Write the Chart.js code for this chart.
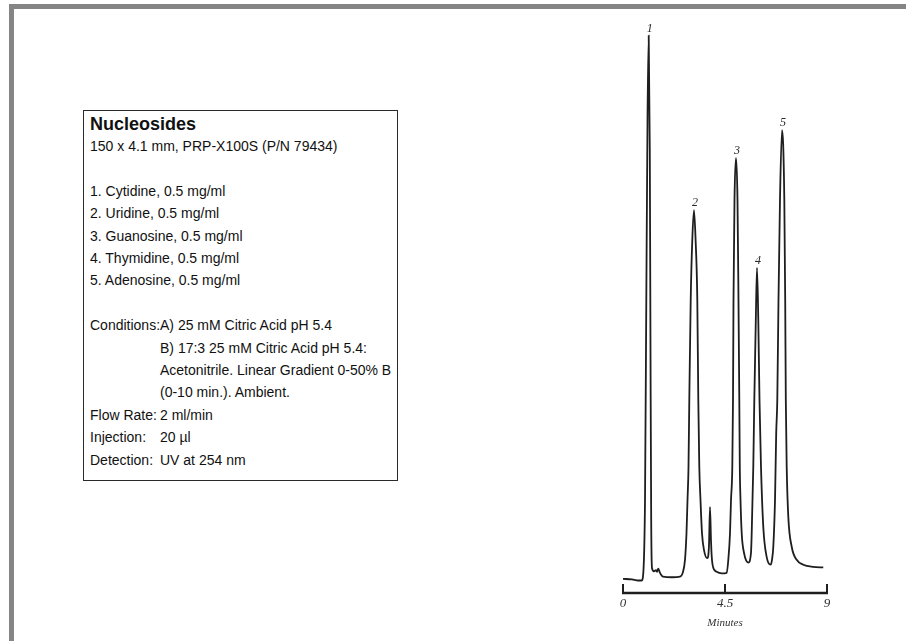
<!DOCTYPE html>
<html>
<head>
<meta charset="utf-8">
<script src="https://cdn.jsdelivr.net/npm/chart.js@4.4.1/dist/chart.umd.min.js"></script>
<style>
  html, body { margin: 0; padding: 0; background: #ffffff; }
  body { width: 906px; height: 641px; position: relative; overflow: hidden;
         font-family: "Liberation Sans", Arial, sans-serif; color: #111; }
  #frame { position: absolute; left: 9px; top: 4px; right: 0; bottom: 0;
           border-top: 5px solid #858585; border-left: 5px solid #858585; }
  #chart { position: absolute; left: 0; top: 0; }
  #info { position: absolute; left: 83px; top: 110px; width: 307px; height: 367px;
          border: 1.5px solid #2a2a2a; padding: 2px 0 0 6px; background: #fff;
          font-size: 14px; line-height: 22.4px; }
  #info .title { font-weight: bold; font-size: 18px; line-height: 22px; }
  #info .row { display: flex; }
  #info .lbl { width: 70px; flex: none; white-space: nowrap; }
  #info .gap { height: 22.4px; }
</style>
</head>
<body>
<div id="frame"></div>
<canvas id="chart" width="906" height="641"></canvas>
<div id="info">
  <div class="title">Nucleosides</div>
  <div>150 x 4.1 mm, PRP-X100S (P/N 79434)</div>
  <div class="gap"></div>
  <div>1. Cytidine, 0.5 mg/ml</div>
  <div>2. Uridine, 0.5 mg/ml</div>
  <div>3. Guanosine, 0.5 mg/ml</div>
  <div>4. Thymidine, 0.5 mg/ml</div>
  <div>5. Adenosine, 0.5 mg/ml</div>
  <div class="gap"></div>
  <div class="row"><span class="lbl">Conditions:</span><span>A) 25 mM Citric Acid pH 5.4<br>B) 17:3 25 mM Citric Acid pH 5.4:<br>Acetonitrile. Linear Gradient 0-50% B<br>(0-10 min.). Ambient.</span></div>
  <div class="row"><span class="lbl">Flow Rate:</span><span>2 ml/min</span></div>
  <div class="row"><span class="lbl">Injection:</span><span>20 µl</span></div>
  <div class="row"><span class="lbl">Detection:</span><span>UV at 254 nm</span></div>
</div>
<script>
// Detector trace: retention time (min) and relative absorbance (peak 1 = 100)
const retentionMin = [
  0.000, 0.397, 0.662, 0.825, 0.896, 0.971, 1.028, 1.081, 1.134, 1.182, 1.213, 1.244, 1.279,
  1.368, 1.456, 1.500, 1.557, 1.632, 1.765, 2.162, 2.515,
  2.634, 2.735, 2.801, 2.846, 2.890, 2.925, 2.987, 3.057, 3.132, 3.203, 3.278, 3.322, 3.366,
  3.419, 3.485, 3.574, 3.719,
  3.794, 3.838, 3.882, 3.913, 3.971, 4.134, 4.354, 4.575,
  4.646, 4.721, 4.765, 4.822, 4.853, 4.875, 4.919, 4.985, 5.051, 5.095, 5.131, 5.153, 5.184,
  5.237, 5.338, 5.528,
  5.647, 5.678, 5.748, 5.793, 5.859, 5.912, 5.969, 6.022, 6.088, 6.190, 6.340, 6.516,
  6.573, 6.631, 6.706, 6.759, 6.807, 6.860, 6.926, 7.015, 7.117, 7.156, 7.183, 7.222, 7.293,
  7.443, 7.663, 7.954, 8.395, 8.836
];
const absorbance = [
  0.1, 0.0, -0.2, -0.2, 1.2, 14.6, 51.4, 84.5, 100.0, 78.9, 42.2, 10.9, 2.1,
  1.5, 1.7, 1.4, 2.0, 1.2, 0.5, 0.4, 0.5,
  1.2, 3.6, 8.5, 14.6, 20.7, 33.0, 51.4, 62.4, 67.9, 62.4, 51.4, 33.0, 20.7,
  14.6, 8.5, 5.4, 3.9,
  6.3, 13.3, 7.2, 4.3, 2.3, 1.4, 1.1, 1.2,
  3.6, 8.5, 14.6, 20.7, 33.0, 51.4, 69.8, 77.5, 69.8, 51.4, 33.0, 20.7, 14.6,
  8.5, 4.9, 3.1,
  4.9, 8.5, 20.7, 33.0, 47.7, 57.3, 47.7, 33.0, 20.7, 9.6, 4.1, 2.7,
  3.6, 6.0, 14.6, 26.9, 33.0, 51.4, 69.8, 82.6, 69.8, 51.4, 33.0, 20.7, 11.5,
  6.0, 3.6, 2.7, 2.3, 2.2
];

// Numbered peaks (retention time of each apex)
const peakNumbers = ['1', '2', '3', '4', '5'];
const peakTimes = [1.134, 3.132, 4.985, 5.912, 7.015];

// Time axis
const axisTicks = [0, 4.5, 9];
const axisTickLabels = ['0', '4.5', '9'];
const axisTitle = 'Minutes';

const tracePoints = retentionMin.map((t, i) => ({ x: t, y: absorbance[i] }));

const inkColor = '#1e1e1e';

const peakLabelPlugin = {
  id: 'peakLabels',
  afterDatasetsDraw(chart) {
    const { ctx, scales: { x, y } } = chart;
    ctx.save();
    ctx.fillStyle = '#2a2a2a';
    ctx.font = 'italic 12px "Liberation Serif", "DejaVu Serif", serif';
    ctx.textAlign = 'center';
    ctx.textBaseline = 'bottom';
    peakNumbers.forEach((name, i) => {
      const idx = retentionMin.indexOf(peakTimes[i]);
      const px = x.getPixelForValue(peakTimes[i]);
      const py = y.getPixelForValue(absorbance[idx]);
      ctx.fillText(name, px + 1, py - 1);
    });
    ctx.restore();
  }
};

const timeAxisPlugin = {
  id: 'timeAxis',
  afterDraw(chart) {
    const { ctx, scales: { x }, chartArea } = chart;
    const base = chartArea.bottom;
    const x0 = x.getPixelForValue(axisTicks[0]);
    const x1 = x.getPixelForValue(axisTicks[axisTicks.length - 1]);
    ctx.save();
    ctx.strokeStyle = inkColor;
    ctx.lineWidth = 2.5;
    ctx.beginPath();
    ctx.moveTo(x0 - 1, base);
    ctx.lineTo(x1 + 1, base);
    ctx.stroke();
    ctx.lineWidth = 2;
    axisTicks.forEach(t => {
      const px = x.getPixelForValue(t);
      ctx.beginPath();
      ctx.moveTo(px, base);
      ctx.lineTo(px, base - 9);
      ctx.stroke();
    });
    ctx.fillStyle = '#333';
    ctx.font = 'italic 13px "Liberation Serif", "DejaVu Serif", serif';
    ctx.textAlign = 'center';
    ctx.textBaseline = 'top';
    axisTicks.forEach((t, i) => {
      ctx.fillText(axisTickLabels[i], x.getPixelForValue(t), base + 4);
    });
    ctx.font = 'italic 11px "Liberation Serif", "DejaVu Serif", serif';
    ctx.fillText(axisTitle, x.getPixelForValue(4.5), base + 25);
    ctx.restore();
  }
};

new Chart(document.getElementById('chart'), {
  type: 'line',
  data: {
    datasets: [{
      data: tracePoints,
      borderColor: inkColor,
      borderWidth: 1.8,
      pointRadius: 0,
      fill: false,
      cubicInterpolationMode: 'monotone'
    }]
  },
  options: {
    responsive: false,
    animation: false,
    events: [],
    layout: { padding: { left: 623, right: 79, top: 22, bottom: 48 } },
    plugins: { legend: { display: false }, tooltip: { enabled: false } },
    scales: {
      x: { type: 'linear', min: 0, max: 9, display: false },
      y: { min: -2.5, max: 102.5, display: false }
    }
  },
  plugins: [peakLabelPlugin, timeAxisPlugin]
});
</script>
</body>
</html>
